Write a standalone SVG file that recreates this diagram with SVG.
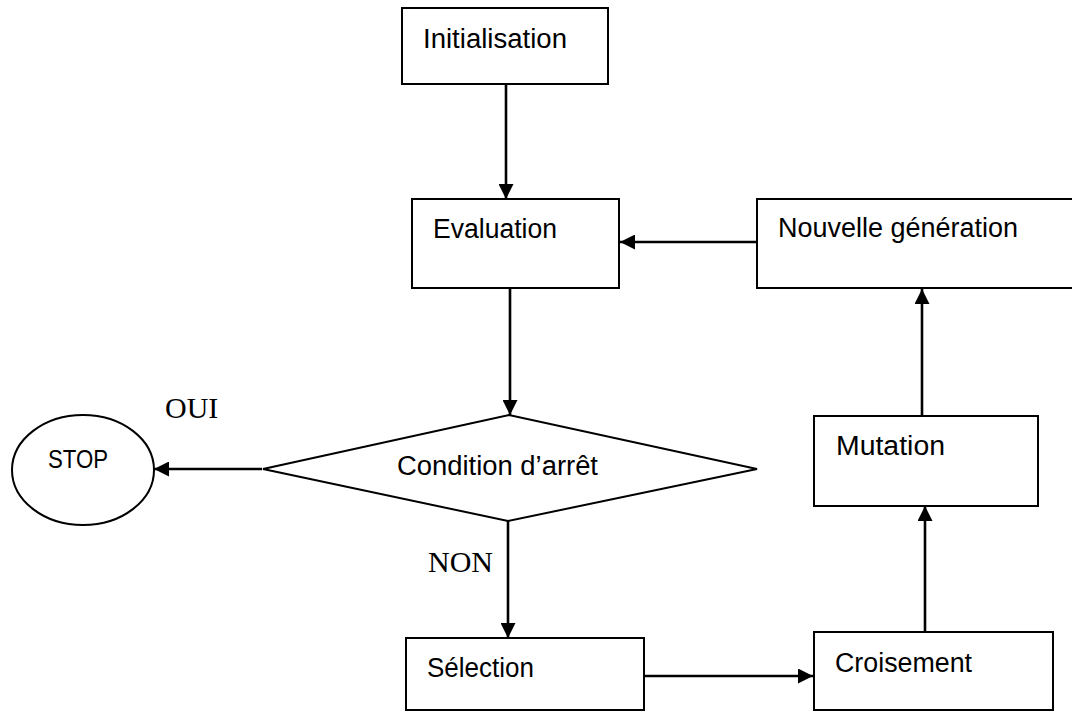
<svg xmlns="http://www.w3.org/2000/svg" width="1072" height="711" viewBox="0 0 1072 711">
  <style>
    .box { fill: #ffffff; stroke: #000000; stroke-width: 2; }
    .lbl { font-family: "Liberation Sans", Arial, sans-serif; font-size: 27px; fill: #000000; }
    .ser { font-family: "Liberation Serif", "Times New Roman", serif; font-size: 30px; fill: #000000; }
    .conn { fill: none; stroke: #000000; stroke-width: 2.6; marker-end: url(#arrow); }
  </style>
  <defs>
    <marker id="arrow" viewBox="0 0 15 15" refX="15" refY="7.5" markerWidth="15" markerHeight="15" markerUnits="userSpaceOnUse" orient="auto">
      <path d="M0,0 L15,7.5 L0,15 z" fill="#000000"/>
    </marker>
  </defs>
  <rect width="1072" height="711" fill="#ffffff"/>

  <g id="connectors">
    <path class="conn" d="M506,85 L506,199"/>
    <path class="conn" d="M510,288 L510,415"/>
    <path class="conn" d="M262,469 L154,469"/>
    <path class="conn" d="M508,521 L508,638"/>
    <path class="conn" d="M644,676 L813,676"/>
    <path class="conn" d="M925,632 L925,506"/>
    <path class="conn" d="M922,416 L922,289"/>
    <path class="conn" d="M757,242 L620,242"/>
  </g>

  <g id="node-initialisation">
    <rect class="box" x="402" y="8" width="206" height="76"/>
    <text class="lbl" x="423" y="48" textLength="144" lengthAdjust="spacingAndGlyphs">Initialisation</text>
  </g>

  <g id="node-evaluation">
    <rect class="box" x="412" y="199" width="207" height="89"/>
    <text class="lbl" x="433" y="238" textLength="124" lengthAdjust="spacingAndGlyphs">Evaluation</text>
  </g>

  <g id="node-nouvelle">
    <rect class="box" x="757" y="199" width="330" height="89"/>
    <text class="lbl" x="778" y="237" textLength="240" lengthAdjust="spacingAndGlyphs">Nouvelle génération</text>
  </g>

  <g id="node-condition">
    <polygon class="box" points="263,469 509,415 757,469 508,521"/>
    <text class="lbl" x="397" y="475" textLength="201" lengthAdjust="spacingAndGlyphs">Condition d’arrêt</text>
  </g>

  <g id="node-stop">
    <ellipse class="box" cx="83" cy="470" rx="71" ry="55"/>
    <text class="lbl" x="48" y="468" style="font-size:25px" textLength="60" lengthAdjust="spacingAndGlyphs">STOP</text>
  </g>

  <g id="node-mutation">
    <rect class="box" x="814" y="416" width="224" height="90"/>
    <text class="lbl" x="836" y="455" textLength="109" lengthAdjust="spacingAndGlyphs">Mutation</text>
  </g>

  <g id="node-selection">
    <rect class="box" x="406" y="638" width="238" height="72"/>
    <text class="lbl" x="427" y="677" textLength="107" lengthAdjust="spacingAndGlyphs">Sélection</text>
  </g>

  <g id="node-croisement">
    <rect class="box" x="814" y="632" width="239" height="78"/>
    <text class="lbl" x="835" y="672" textLength="137" lengthAdjust="spacingAndGlyphs">Croisement</text>
  </g>

  <g id="labels">
    <text class="ser" x="165" y="418">OUI</text>
    <text class="ser" x="428" y="572">NON</text>
  </g>
</svg>
